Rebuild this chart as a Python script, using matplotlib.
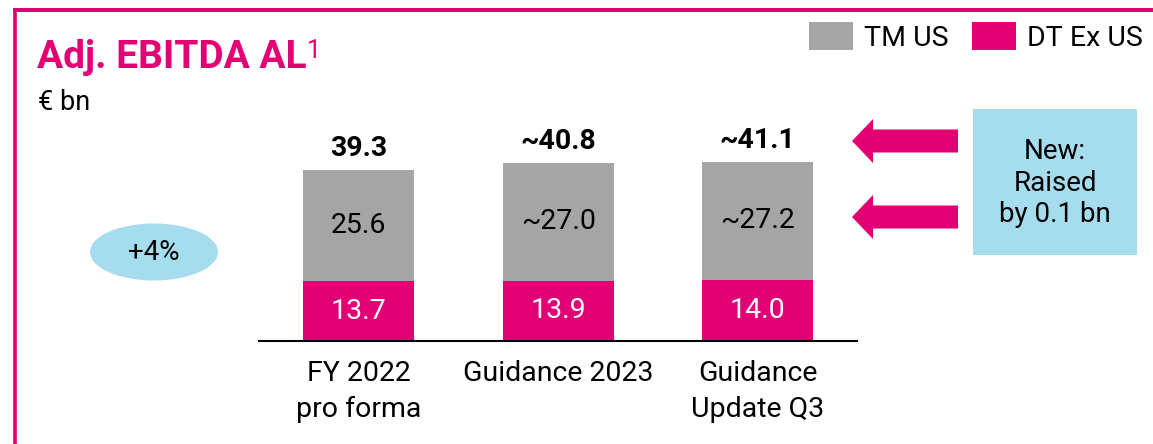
import matplotlib
matplotlib.use("Agg")
import matplotlib.pyplot as plt
import matplotlib.patches as mpatches
import numpy as np

plt.rcParams['font.family'] = ['Roboto', 'DejaVu Sans']

categories = ["FY 2022\npro forma", "Guidance 2023", "Guidance\nUpdate Q3"]
dt_ex_us = [13.7, 13.9, 14.0]
tm_us = [25.6, 27.0, 27.2]
dt_labels = ["13.7", "13.9", "14.0"]
tm_labels = ["25.6", "~27.0", "~27.2"]
total_labels = ["39.3", "~40.8", "~41.1"]
growth_label = "+4%"
note_text = "New:\nRaised\nby 0.1 bn"

MAGENTA = '#E20074'
GREY = '#A5A5A5'
LIGHTBLUE = '#A6DDEE'

W, H = 1153, 444
fig = plt.figure(figsize=(W / 100, H / 100), dpi=100)

# overlay in pixel units for frame, title and callouts
ov = fig.add_axes([0, 0, 1, 1])
ov.set_xlim(0, W)
ov.set_ylim(H, 0)
ov.axis('off')
ov.set_zorder(1)

ov.plot([13, W], [10.5, 10.5], color=MAGENTA, lw=2.9, solid_capstyle='butt')
ov.plot([15, 15], [8.5, H], color=MAGENTA, lw=2.6, solid_capstyle='butt')

title = ov.text(37, 68, "Adj. EBITDA AL", color=MAGENTA, fontsize=28,
                fontweight='bold', ha='left', va='baseline')
fig.canvas.draw()
tb = title.get_window_extent()
ov.text(tb.x1, 58, "1", color=MAGENTA, fontsize=18, ha='left', va='baseline')
ov.text(38, 110, "€ bn", color='black', fontsize=19.5, ha='left', va='baseline')

ov.add_patch(mpatches.Ellipse((154, 252), 128, 57, color=LIGHTBLUE, lw=0))
ov.text(154, 252, growth_label, fontsize=20, ha='center', va='center')

for yy in (141, 217):
    ov.add_patch(mpatches.FancyArrow(958, yy, -106, 0, width=23, head_width=44,
                                     head_length=21, length_includes_head=True,
                                     color=MAGENTA, lw=0))

ov.add_patch(mpatches.Rectangle((973, 109), 164, 146, color=LIGHTBLUE, lw=0))
ov.text(1055, 183, note_text, fontsize=20, ha='center', va='center',
        linespacing=1.2)

# bar chart
scale = 4.35
ax = fig.add_axes([259 / W, (H - 341) / H, 598.5 / W, 45 * scale / H])
ax.set_zorder(2)
ax.patch.set_alpha(0)

x = np.arange(len(categories))
b1 = ax.bar(x, dt_ex_us, width=0.556, color=MAGENTA, label="DT Ex US")
b2 = ax.bar(x, tm_us, width=0.556, bottom=dt_ex_us, color=GREY, label="TM US")

for i in range(len(x)):
    ax.text(x[i], dt_ex_us[i] / 2, dt_labels[i], color='white', fontsize=20.5,
            ha='center', va='center')
    ax.text(x[i], dt_ex_us[i] + tm_us[i] / 2, tm_labels[i], color='black',
            fontsize=20.5, ha='center', va='center')
    ax.annotate(total_labels[i], (x[i], dt_ex_us[i] + tm_us[i]),
                xytext=(0, 10), textcoords='offset points', ha='center',
                va='baseline', fontsize=20.5, fontweight='bold')

ax.set_xlim(-0.5, 2.5)
ax.set_ylim(0, 45)
ax.set_xticks(x)
ax.set_xticklabels(categories, fontsize=20.5, linespacing=1.42)
ax.tick_params(axis='x', length=0, pad=14)
ax.set_yticks([])
for s in ['top', 'left', 'right']:
    ax.spines[s].set_visible(False)
ax.spines['bottom'].set_linewidth(1.5)
ax.spines['bottom'].set_color('black')

fig.legend([b2, b1], ["TM US", "DT Ex US"], loc='upper right',
           bbox_to_anchor=(1143 / W, 1 - 22 / H), ncol=2, frameon=False,
           fontsize=20.5, handlelength=1.55, handleheight=1.15,
           handletextpad=0.4, columnspacing=0.8, borderpad=0, borderaxespad=0)

fig.savefig("out.png", dpi=100)
